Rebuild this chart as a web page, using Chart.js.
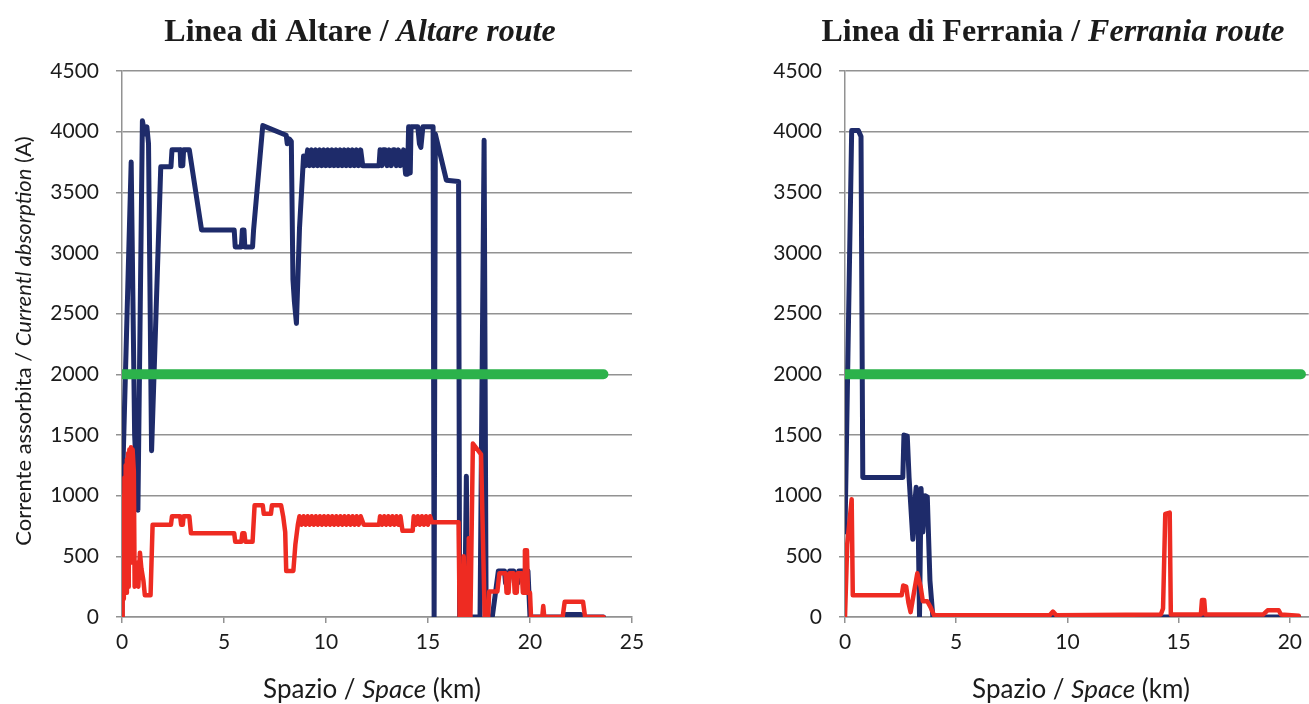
<!DOCTYPE html>
<html>
<head>
<meta charset="utf-8">
<script src="https://cdn.jsdelivr.net/npm/chart.js@4.4.0/dist/chart.umd.min.js"></script>
<style>
  html, body { margin: 0; padding: 0; background: #fff; overflow: hidden; }
  #wrap { position: relative; width: 1309px; height: 704px; }
  .box { position: absolute; top: 0; height: 704px; }
  #left { left: 0; width: 655px; }
  #right { left: 655px; width: 654px; }
</style>
</head>
<body>
<div id="wrap">
  <div class="box" id="left"><canvas id="chart-altare"></canvas></div>
  <div class="box" id="right"><canvas id="chart-ferrania"></canvas></div>
</div>
<script>
// Linea di Altare - blue trace (km, A)
const altareBlueKm = [0, 0.05, 0.45, 0.62, 0.78, 1.0, 1.12, 1.22, 1.3, 1.45, 1.9, 2.4, 2.45, 2.85, 2.88, 2.98, 3.02, 3.3, 3.9, 5.5, 5.55, 5.85, 5.9, 5.98, 6.02, 6.4, 6.45, 6.9, 8.05, 8.1, 8.2, 8.3, 8.38, 8.45, 8.55, 8.7, 8.9,
  9.0, 9.1, 9.2, 9.3, 9.4, 9.5, 9.6, 9.7, 9.8, 9.9, 10.0, 10.1, 10.2, 10.3, 10.4, 10.5, 10.6, 10.7, 10.8, 10.9, 11.0, 11.1, 11.2, 11.3, 11.4, 11.5, 11.6, 11.7, 11.8, 11.85,
  12.6, 12.65, 12.75, 12.8, 12.9, 13.0, 13.1, 13.2, 13.3, 13.35, 13.45, 13.55, 13.65, 13.8, 13.9, 14.0, 14.05, 14.1, 14.13, 14.17, 14.5, 14.58, 14.65, 14.75, 15.25, 15.3, 15.36, 15.9, 16.5, 16.55,
  16.8, 16.88, 16.95, 17.55, 17.75, 17.85, 18.15, 18.45, 18.75, 18.8, 18.95, 19.0, 19.2, 19.25, 19.4, 19.45, 19.9, 20.0, 21.7, 21.75, 22.5, 22.55, 23.6];
const altareBlueA = [0, 1270, 3750, 1500, 880, 4090, 3980, 4040, 3900, 1370, 3710, 3710, 3850, 3850, 3720, 3720, 3850, 3850, 3190, 3190, 3050, 3050, 3190, 3190, 3050, 3050, 3190, 4050, 3970, 3900, 3940, 3920, 2780, 2600, 2420, 3200, 3800,
  3720, 3850, 3720, 3850, 3720, 3850, 3720, 3850, 3720, 3850, 3720, 3850, 3720, 3850, 3720, 3850, 3720, 3850, 3720, 3850, 3720, 3850, 3720, 3850, 3720, 3850, 3720, 3850, 3720, 3720,
  3720, 3850, 3720, 3850, 3850, 3720, 3850, 3720, 3850, 3850, 3720, 3850, 3720, 3850, 3650, 3650, 4040, 4040, 3660, 4040, 4040, 3900, 3870, 4040, 4040, 0, 3980, 3600, 3590, 0,
  0, 1160, 0, 0, 3930, 0, 0, 380, 380, 280, 280, 380, 380, 280, 280, 380, 380, 0, 0, 20, 20, 0, 0];

// Linea di Altare - red trace (km, A)
const altareRedKm = [0, 0.03, 0.06, 0.09, 0.12, 0.15, 0.18, 0.21, 0.24, 0.27, 0.3, 0.33, 0.36, 0.4, 0.44, 0.48, 0.52, 0.58, 0.62, 0.7, 0.8, 0.88, 0.95, 1.05, 1.12, 1.4, 1.5, 2.4, 2.45, 2.85, 2.9, 2.98, 3.02, 3.3, 3.38, 5.5, 5.55, 5.85, 5.9, 6.0, 6.05, 6.4, 6.5, 6.9, 6.95, 7.3, 7.35, 7.8, 7.9, 8.0, 8.05, 8.4, 8.5, 8.62, 8.7,
  8.8, 8.9, 9.0, 9.1, 9.2, 9.3, 9.4, 9.5, 9.6, 9.7, 9.8, 9.9, 10.0, 10.1, 10.2, 10.3, 10.4, 10.5, 10.6, 10.7, 10.8, 10.9, 11.0, 11.1, 11.2, 11.3, 11.4, 11.5, 11.6, 11.7, 11.85,
  12.6, 12.65, 12.75, 12.85, 12.95, 13.05, 13.15, 13.25, 13.35, 13.45, 13.55, 13.65, 13.75, 14.25, 14.3, 14.4, 14.5, 14.6, 14.7, 14.8, 14.9, 15.0, 15.1, 15.2, 16.5, 16.55,
  16.7, 16.75, 16.82, 16.95, 17.0, 17.08, 17.2, 17.6, 17.78, 17.95, 18.0, 18.4, 18.5, 18.8, 18.85, 18.95, 19.0, 19.2, 19.25, 19.35, 19.4, 19.6, 19.65, 19.72, 19.75, 19.85, 19.9, 20.0, 20.05,
  20.6, 20.65, 20.7, 21.6, 21.7, 22.6, 22.7, 23.6];
const altareRedA = [0, 300, 1000, 150, 1150, 250, 1250, 200, 1300, 350, 1350, 250, 1380, 450, 1400, 550, 1380, 1200, 250, 450, 250, 530, 400, 300, 180, 180, 760, 760, 830, 830, 760, 760, 830, 830, 690, 690, 620, 620, 690, 690, 620, 620, 920, 920, 850, 850, 920, 920, 830, 700, 380, 380, 600, 760, 830,
  760, 830, 760, 830, 760, 830, 760, 830, 760, 830, 760, 830, 760, 830, 760, 830, 760, 830, 760, 830, 760, 830, 760, 830, 760, 830, 760, 830, 760, 830, 760,
  760, 830, 760, 830, 760, 830, 760, 830, 760, 830, 760, 830, 710, 710, 830, 760, 830, 760, 830, 760, 830, 760, 830, 780, 780, 0,
  0, 500, 0, 0, 650, 0, 1430, 1340, 0, 0, 210, 210, 360, 360, 200, 200, 360, 360, 200, 200, 360, 360, 200, 200, 550, 550, 200, 200, 0,
  0, 90, 0, 0, 125, 125, 0, 0];

// Linea di Altare - limit line
const altareLimitKm = [0, 23.6];
const altareLimitA = [2000, 2000];

// Linea di Ferrania - blue trace (km, A)
const ferraniaBlueKm = [0, 0.3, 0.6, 0.72, 0.8, 2.6, 2.65, 2.8, 2.88, 3.05, 3.12, 3.2, 3.3, 3.35, 3.42, 3.5, 3.6, 3.7, 3.82, 3.95, 20.4];
const ferraniaBlueA = [700, 4010, 4010, 3960, 1150, 1150, 1500, 1490, 1150, 640, 900, 1070, 640, 0, 1060, 700, 1000, 990, 300, 0, 0];

// Linea di Ferrania - red trace (km, A)
const ferraniaRedKm = [0, 0.1, 0.3, 0.35, 2.55, 2.62, 2.75, 2.85, 2.95, 3.1, 3.25, 3.4, 3.5, 3.7, 3.85, 4.0, 9.2, 9.35, 9.5, 14.2, 14.3, 14.4, 14.6, 14.65, 16.0, 16.05, 16.15, 16.2, 18.8, 19.0, 19.5, 19.6, 20.4];
const ferraniaRedA = [0, 600, 970, 180, 180, 260, 250, 120, 40, 200, 360, 250, 130, 130, 80, 15, 15, 45, 15, 20, 70, 850, 860, 20, 20, 140, 140, 20, 20, 55, 55, 20, 10];

// Linea di Ferrania - limit line
const ferraniaLimitKm = [0, 20.5];
const ferraniaLimitA = [2000, 2000];

const yTicks = [0, 4500, 500];
const xStep = 5;

const pts = (xs, ys) => xs.map((x, i) => ({ x: x, y: ys[i] }));

const labelFont = { family: "Lato, 'Open Sans', sans-serif", size: 21 };
const gridColor = "#929292";
const textColor = "#1b1b1b";

const richText = {
  id: "richText",
  afterDraw(chart, args, options) {
    const { ctx } = chart;
    (options.items || []).forEach((item) => {
      ctx.save();
      ctx.fillStyle = textColor;
      ctx.textBaseline = "alphabetic";
      ctx.translate(item.x, item.y);
      if (item.rotate) ctx.rotate(item.rotate);
      const fonts = item.parts.map(
        (p) => `${p.italic ? "italic " : ""}${item.weight} ${item.size}px ${item.family}`
      );
      let total = 0;
      const widths = item.parts.map((p, i) => {
        ctx.font = fonts[i];
        const w = ctx.measureText(p.text).width;
        total += w;
        return w;
      });
      let x = -total / 2;
      item.parts.forEach((p, i) => {
        ctx.font = fonts[i];
        ctx.fillText(p.text, x, 0);
        x += widths[i];
      });
      ctx.restore();
    });
  },
};

function makeConfig(o) {
  return {
    type: "line",
    data: {
      datasets: [
        {
          label: "Limite",
          data: pts(o.limitKm, o.limitA),
          borderColor: "#2cb24b",
          borderWidth: 10,
          borderCapStyle: "round",
          pointRadius: 0,
        },
        {
          label: "Rosso",
          data: pts(o.redKm, o.redA),
          borderColor: "#ee2b22",
          borderWidth: 4.5,
          borderJoinStyle: "round",
          borderCapStyle: "round",
          pointRadius: 0,
        },
        {
          label: "Blu",
          data: pts(o.blueKm, o.blueA),
          borderColor: "#1e2b6a",
          borderWidth: 5,
          borderJoinStyle: "round",
          borderCapStyle: "round",
          pointRadius: 0,
        },
      ],
    },
    options: {
      responsive: true,
      maintainAspectRatio: false,
      animation: false,
      layout: { padding: { top: 71, right: o.padRight, left: 0, bottom: 0 } },
      scales: {
        x: {
          type: "linear",
          min: 0,
          max: o.xMax,
          afterFit: (s) => { s.height = 87; },
          ticks: { stepSize: xStep, includeBounds: false, font: labelFont, color: textColor, padding: 7, maxRotation: 0, callback: (v) => String(v) },
          grid: { drawOnChartArea: false, drawTicks: true, tickLength: 6, color: gridColor, lineWidth: 1.5 },
          border: { display: true, color: gridColor, width: 1.5 },
        },
        y: {
          min: yTicks[0],
          max: yTicks[1],
          afterFit: (s) => { s.width = o.axisLeft; },
          ticks: { stepSize: yTicks[2], font: labelFont, color: textColor, padding: 17, callback: (v) => String(v) },
          grid: { color: gridColor, lineWidth: 1.5, tickLength: 6 },
          border: { display: true, color: gridColor, width: 1.5 },
        },
      },
      plugins: {
        legend: { display: false },
        tooltip: { enabled: false },
        richText: { items: o.items },
      },
    },
    plugins: [richText],
  };
}

const serif = "'Liberation Serif', 'Times New Roman', serif";
const sans = "Lato, 'Open Sans', sans-serif";

new Chart(document.getElementById("chart-altare"), makeConfig({
  blueKm: altareBlueKm, blueA: altareBlueA,
  redKm: altareRedKm, redA: altareRedA,
  limitKm: altareLimitKm, limitA: altareLimitA,
  xMax: 25, axisLeft: 122, padRight: 23,
  items: [
    { x: 360, y: 41, size: 32, weight: "bold", family: serif,
      parts: [{ text: "Linea di Altare / " }, { text: "Altare route", italic: true }] },
    { x: 372, y: 698, size: 26, weight: "normal", family: sans,
      parts: [{ text: "Spazio / " }, { text: "Space", italic: true }, { text: " (km)" }] },
    { x: 31, y: 341, size: 22, weight: "normal", family: sans, rotate: -Math.PI / 2,
      parts: [{ text: "Corrente assorbita / " }, { text: "Currentl absorption", italic: true }, { text: " (A)" }] },
  ],
}));

new Chart(document.getElementById("chart-ferrania"), makeConfig({
  blueKm: ferraniaBlueKm, blueA: ferraniaBlueA,
  redKm: ferraniaRedKm, redA: ferraniaRedA,
  limitKm: ferraniaLimitKm, limitA: ferraniaLimitA,
  xMax: 20.85, axisLeft: 190, padRight: 0,
  items: [
    { x: 398, y: 41, size: 32, weight: "bold", family: serif,
      parts: [{ text: "Linea di Ferrania / " }, { text: "Ferrania route", italic: true }] },
    { x: 426, y: 698, size: 26, weight: "normal", family: sans,
      parts: [{ text: "Spazio / " }, { text: "Space", italic: true }, { text: " (km)" }] },
  ],
}));
</script>
</body>
</html>
